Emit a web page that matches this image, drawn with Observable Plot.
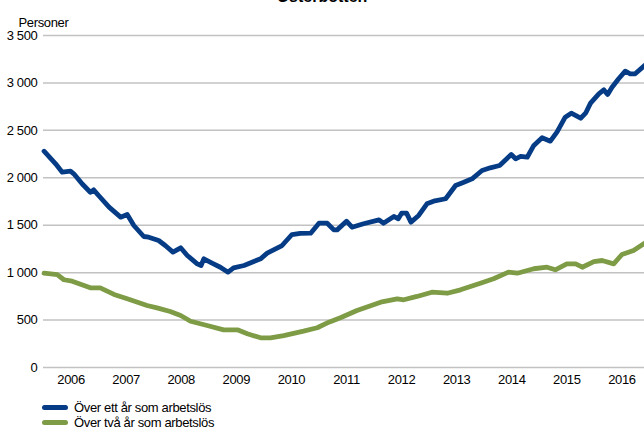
<!DOCTYPE html>
<html>
<head>
<meta charset="utf-8">
<script src="https://cdn.jsdelivr.net/npm/d3@7"></script>
<script src="https://cdn.jsdelivr.net/npm/@observablehq/plot@0.6"></script>
<style>
  body { margin:0; background:#fff; }
  #wrap { position:relative; width:644px; height:429px; overflow:hidden; font-family:"Liberation Sans Narrow","Arial Narrow","Liberation Sans",Arial,sans-serif; }
  #title { position:absolute; left:0; width:644px; top:-12px; text-align:center; font-family:"Liberation Sans",Arial,sans-serif; font-weight:bold; font-size:16px; }
  #chart { position:absolute; left:0; top:0; }
  .leg { position:absolute; left:42px; font-size:13px; letter-spacing:-0.35px; display:flex; align-items:center; height:14px; }
  .sw { display:inline-block; width:26px; height:5px; border-radius:3px; margin-right:6px; }
</style>
</head>
<body>
<div id="wrap">
  <div id="chart"></div>
  <div id="title">Österbotten</div>
  <div class="leg" style="top:400px"><span class="sw" style="background:#053c85"></span>Över ett år som arbetslös</div>
  <div class="leg" style="top:415px"><span class="sw" style="background:#7e9b46"></span>Över två år som arbetslös</div>
</div>
<script>
const years = [2006,2007,2008,2009,2010,2011,2012,2013,2014,2015,2016];
const yTicks = [0,500,1000,1500,2000,2500,3000,3500];
const seriesNames = ["Över ett år som arbetslös","Över två år som arbetslös"];

const blueT = [2006.01,2006.22,2006.34,2006.49,2006.55,2006.70,2006.85,2006.91,2007.00,2007.19,2007.40,2007.52,2007.64,2007.82,2007.91,2008.09,2008.21,2008.35,2008.49,2008.61,2008.79,2008.86,2008.91,2009.06,2009.21,2009.35,2009.45,2009.64,2009.94,2010.06,2010.33,2010.51,2010.66,2010.85,2011.00,2011.15,2011.27,2011.33,2011.50,2011.60,2011.81,2012.09,2012.17,2012.36,2012.44,2012.50,2012.59,2012.67,2012.81,2012.96,2013.08,2013.30,2013.48,2013.63,2013.78,2013.96,2014.11,2014.28,2014.49,2014.57,2014.66,2014.78,2014.90,2015.05,2015.20,2015.32,2015.47,2015.58,2015.75,2015.84,2015.93,2016.08,2016.17,2016.24,2016.32,2016.44,2016.56,2016.65,2016.74,2016.91];
const blueV = [2280,2147,2059,2070,2042,1937,1848,1873,1813,1690,1585,1613,1497,1381,1374,1339,1286,1216,1262,1181,1093,1075,1146,1100,1057,1005,1051,1075,1146,1205,1286,1402,1415,1416,1521,1521,1451,1451,1542,1479,1515,1557,1521,1592,1568,1627,1627,1532,1603,1726,1753,1779,1919,1954,1989,2077,2105,2130,2246,2200,2225,2217,2341,2422,2386,2481,2639,2681,2628,2681,2787,2885,2927,2878,2955,3044,3124,3096,3096,3184];

const greenT = [2006.01,2006.25,2006.37,2006.52,2006.85,2007.03,2007.28,2007.52,2007.88,2008.06,2008.30,2008.49,2008.67,2008.97,2009.27,2009.52,2009.70,2009.94,2010.12,2010.36,2010.72,2010.97,2011.18,2011.39,2011.69,2012.12,2012.42,2012.54,2012.78,2013.05,2013.33,2013.57,2013.93,2014.17,2014.44,2014.60,2014.90,2015.14,2015.29,2015.50,2015.66,2015.78,2015.99,2016.14,2016.35,2016.50,2016.71,2016.91];
const greenV = [994,980,925,910,840,840,770,724,654,629,590,548,488,443,397,397,355,313,313,337,383,419,478,524,601,689,724,714,749,794,783,819,889,935,1005,994,1041,1057,1030,1093,1093,1057,1117,1128,1093,1191,1234,1310];

const data = [
  ...blueT.map((t,i)=>({t, v:blueV[i], s:seriesNames[0]})),
  ...greenT.map((t,i)=>({t, v:greenV[i], s:seriesNames[1]}))
];

const chart = Plot.plot({
  width: 644, height: 392,
  marginLeft: 43, marginRight: -5, marginTop: 35, marginBottom: 25,
  style: {fontFamily: '"Liberation Sans Narrow","Arial Narrow","Liberation Sans",Arial,sans-serif', fontSize: "13px", letterSpacing: "-0.35px", color: "#000", background: "transparent"},
  x: {type: "linear", domain: [2006, 2017], ticks: years.map(y => y + 0.5), tickFormat: d => String(Math.floor(d)), tickSize: 0, tickPadding: 7, label: null},
  y: {domain: [0, 3500], ticks: yTicks, tickFormat: d => d3.format(",")(d).replace(/,/g, " "), tickSize: 0, tickPadding: 6, label: null},
  color: {domain: seriesNames, range: ["#053c85", "#7e9b46"]},
  marks: [
    Plot.ruleY(yTicks, {stroke: "#c2c2c2", strokeWidth: 1.5}),
    Plot.line(data, {x: "t", y: "v", z: "s", stroke: "s", strokeWidth: 4.8, strokeLinejoin: "round", strokeLinecap: "round"}),
    Plot.text(["Personer"], {frameAnchor: "top-left", dx: -25, dy: -18, textAnchor: "start", fontSize: 13})
  ]
});
document.getElementById("chart").appendChild(chart);
</script>
</body>
</html>
